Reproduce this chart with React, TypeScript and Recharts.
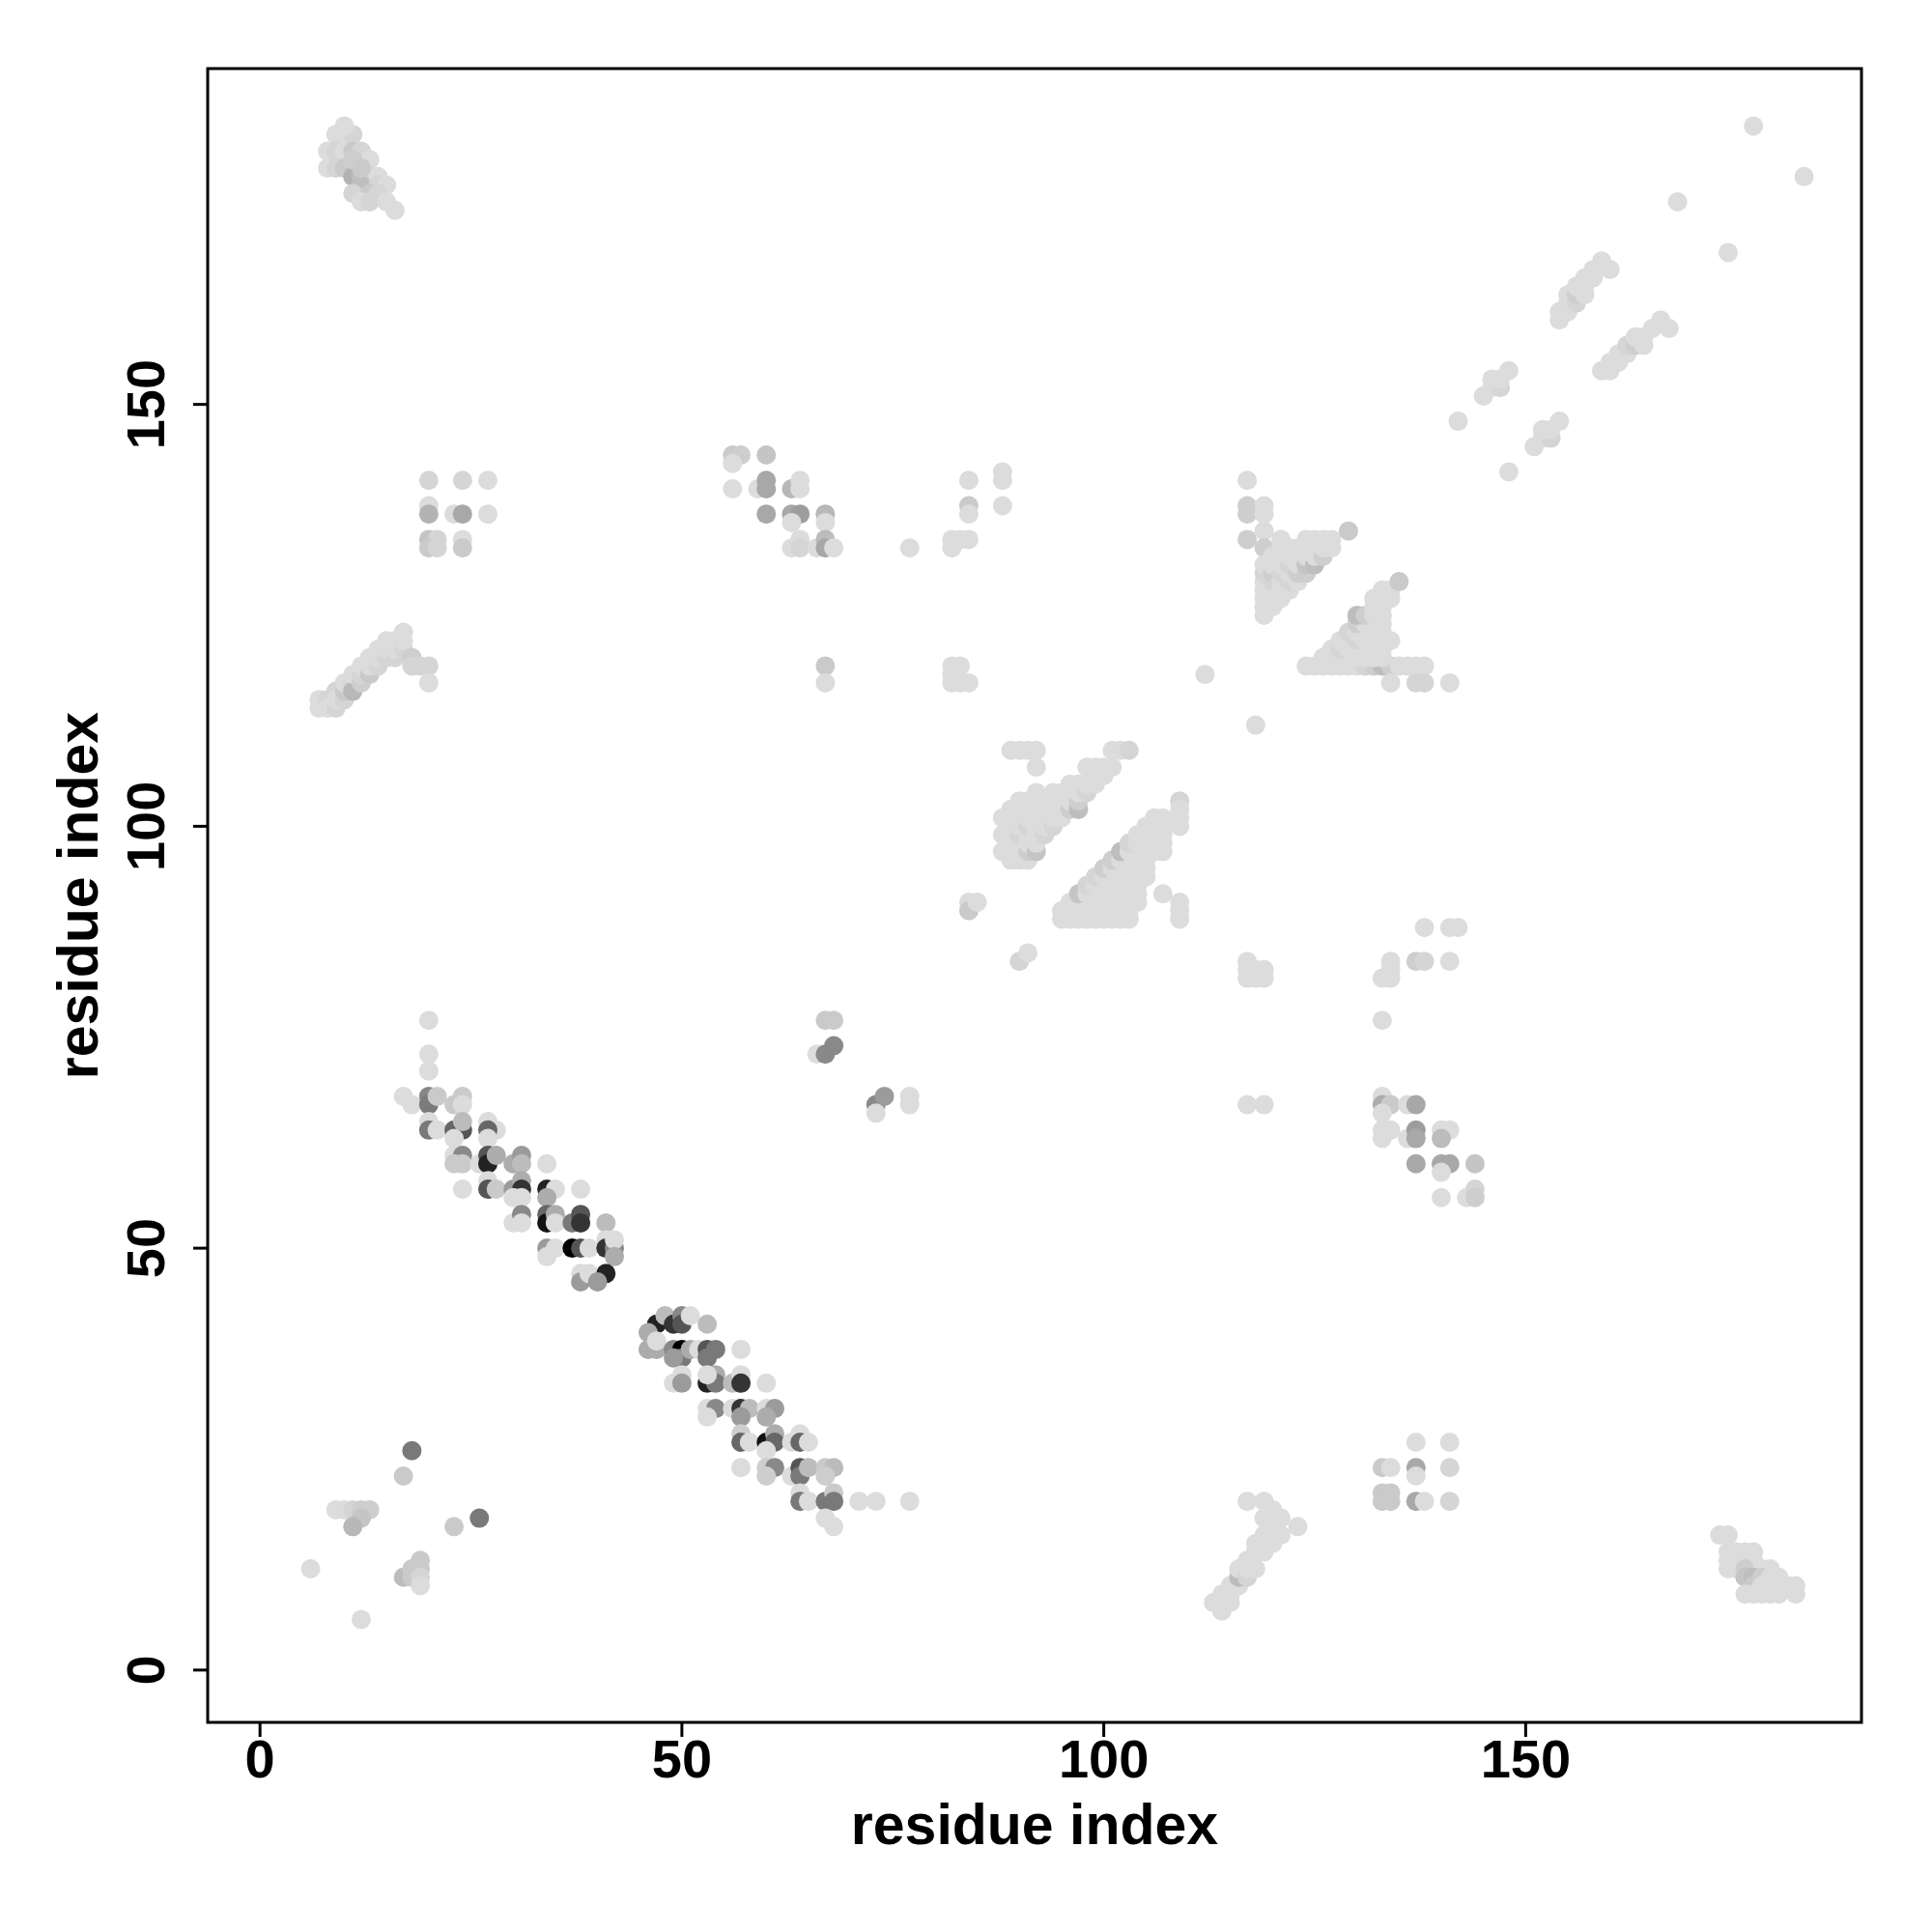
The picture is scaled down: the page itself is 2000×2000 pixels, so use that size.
import React from "react";
import { ScatterChart, Scatter, XAxis, YAxis, ReferenceArea } from "recharts";

// contact map: [i, j, weight]  (weight 0 = faint, 1 = black); missing weight -> faint
type Pt = [number, number, number?];

const xTicks = [0, 50, 100, 150];
const yTicks = [0, 50, 100, 150];
const xLabel = "residue index";
const yLabel = "residue index";

const topLeft: Pt[] = [
  [9, 182], [10, 182], [11, 182, 0.05], [10, 183], [8, 180], [9, 180, 0.05], [10, 180], [11, 180, 0.1], [12, 180, 0.05],
  [13, 179], [8, 178], [9, 178, 0.05], [10, 178, 0.1], [11, 177, 0.2], [12, 177, 0.15], [13, 177, 0.05], [14, 177],
  [12, 176, 0.15], [14, 176, 0.05], [15, 176], [11, 175, 0.05], [13, 175, 0.1], [14, 175, 0.05], [12, 174],
  [13, 174, 0.05], [15, 174], [16, 173], [11, 179, 0.08], [12, 178, 0.1],
];

const block135: Pt[] = [
  [20, 141, 0.05], [24, 141, 0.05], [27, 141], [20, 138], [20, 137, 0.2], [23, 137], [24, 137, 0.25], [27, 137],
  [20, 134, 0.12], [21, 134, 0.05], [20, 133, 0.1], [21, 133, 0.05], [24, 134], [24, 133, 0.1],
];

const band115: Pt[] = [
  [7, 115], [7, 114], [8, 115, 0.05], [8, 114], [9, 114, 0.05], [9, 116, 0.05], [9, 115], [10, 115, 0.05],
  [10, 116, 0.1], [10, 117], [11, 117, 0.05], [11, 116, 0.18], [11, 118], [12, 117, 0.08], [12, 118, 0.05],
  [12, 119], [13, 118, 0.1], [13, 119], [13, 120], [14, 119, 0.05], [14, 120], [14, 121], [15, 120, 0.05],
  [15, 121], [15, 122], [16, 120, 0.05], [16, 122], [16, 121], [17, 121, 0.05], [17, 123], [17, 122],
  [18, 120, 0.08], [18, 119, 0.05], [19, 119, 0.05], [20, 119, 0.05], [20, 117],
];

const betaA: Pt[] = [
  [20, 77], [20, 73], [20, 71], [17, 68], [18, 67], [20, 68, 0.4], [20, 67, 0.45], [21, 68, 0.1], [24, 68, 0.1],
  [23, 67, 0.1], [24, 67], [20, 65], [20, 64, 0.46], [21, 64], [23, 64, 0.54], [24, 64, 0.62], [24, 65, 0.16],
  [23, 63], [27, 65], [28, 64], [27, 64, 0.54], [27, 63], [23, 61], [24, 61, 0.39], [23, 60, 0.1], [24, 60, 0.1],
  [26, 60], [27, 61, 0.62], [27, 60, 0.85], [28, 61, 0.23], [30, 60, 0.23], [31, 61, 0.31], [31, 60, 0.16],
  [34, 60], [24, 57], [27, 58], [27, 57, 0.62], [28, 57, 0.1], [30, 57, 0.31], [31, 58, 0.23], [31, 57, 0.77],
  [30, 56], [31, 56], [34, 57, 0.85], [35, 57], [34, 56, 0.23], [38, 57], [30, 53], [31, 54, 0.39], [31, 53],
  [34, 54, 0.54], [34, 53, 0.92], [35, 54, 0.23], [35, 53], [37, 53, 0.46], [38, 54, 0.62], [38, 53, 0.77],
  [41, 53, 0.16], [34, 50, 0.31], [35, 50], [34, 49], [37, 50, 1], [38, 50, 0.62], [39, 50], [41, 51],
  [41, 50, 0.77], [42, 50, 0.39], [42, 51], [42, 49, 0.23], [38, 47], [38, 46, 0.31], [39, 47], [41, 47, 0.85],
  [40, 46, 0.31],
];

const betaB: Pt[] = [
  [47, 41, 0.85], [46, 40, 0.23], [46, 38, 0.23], [47, 38, 0.23], [48, 42, 0.16], [49, 41, 0.77], [50, 42, 0.39],
  [50, 41, 0.62], [51, 42], [53, 41, 0.16], [47, 39], [49, 38, 0.39], [50, 38, 1], [50, 37, 0.46], [49, 37, 0.31],
  [51, 38, 0.23], [52, 38], [53, 38, 0.62], [54, 38, 0.46], [53, 37, 0.46], [57, 38], [49, 34], [50, 35],
  [50, 34, 0.31], [53, 34, 0.85], [54, 35, 0.23], [54, 34, 0.46], [53, 35], [56, 34, 0.16], [57, 35],
  [57, 34, 0.77], [60, 34], [53, 31], [54, 31, 0.39], [53, 30], [56, 31], [57, 31, 0.77], [58, 31, 0.16],
  [57, 30, 0.31], [60, 31], [61, 31, 0.31], [60, 30, 0.23], [57, 28, 0.08], [57, 27, 0.54], [58, 27],
  [60, 27, 0.92], [61, 28, 0.23], [61, 27, 0.54], [60, 26], [63, 27], [64, 28], [64, 27, 0.54], [65, 27],
  [57, 24], [60, 24, 0.08], [61, 24, 0.39], [60, 23, 0.08], [63, 23], [64, 24, 0.62], [64, 23, 0.46],
  [65, 24, 0.16], [67, 24, 0.1], [68, 24, 0.16], [67, 23, 0.08], [64, 21], [64, 20, 0.46], [65, 20],
  [67, 20, 0.46], [68, 21, 0.1], [68, 20, 0.46], [71, 20], [73, 20], [77, 20], [67, 18], [68, 17],
];

const bottomLeft: Pt[] = [
  [18, 26, 0.46], [17, 23, 0.1], [9, 19], [10, 19], [11, 19, 0.05], [12, 19, 0.08], [13, 19, 0.08], [12, 18, 0.12],
  [11, 17, 0.18], [26, 18, 0.46], [23, 17, 0.1], [6, 12], [19, 13, 0.1], [17, 11, 0.16], [18, 12, 0.1],
  [18, 11, 0.1], [19, 12, 0.1], [19, 11, 0.05], [19, 10], [12, 6],
];

const midBlock: Pt[] = [
  [56, 144, 0.1], [57, 144, 0.08], [56, 143], [60, 144, 0.12], [56, 140], [59, 140], [60, 141, 0.25],
  [60, 140, 0.25], [63, 140, 0.18], [64, 141], [64, 140], [60, 137, 0.25], [63, 137, 0.25], [64, 137, 0.3],
  [63, 136], [67, 137, 0.18], [67, 136], [63, 133], [64, 134], [64, 133, 0.05], [66, 133], [67, 134, 0.16],
  [67, 133, 0.25], [68, 133], [67, 119, 0.1], [67, 117], [77, 133], [82, 134], [83, 134], [84, 134], [82, 133],
  [84, 141], [84, 138, 0.1], [84, 137], [88, 142], [88, 141], [88, 138], [82, 119], [83, 119], [82, 118],
  [82, 117], [83, 117], [84, 117],
  [67, 77, 0.1], [68, 77, 0.1], [66, 73], [67, 73, 0.39], [68, 74, 0.39], [73, 67, 0.39], [74, 68, 0.31],
  [77, 68], [77, 67], [73, 66],
];

const helix100: Pt[] = [
  [89, 109], [90, 109], [91, 109], [92, 109], [92, 107], [101, 109], [102, 109], [103, 109, 0.05], [98, 107],
  [99, 107], [100, 107], [101, 107],
  [88, 97], [88, 99], [88, 101],
  [89, 96], [89, 97], [89, 98], [89, 99], [89, 100], [89, 101], [89, 102],
  [90, 96], [90, 97], [90, 98], [90, 99, 0.05], [90, 100], [90, 101], [90, 102], [90, 103],
  [91, 96], [91, 97, 0.08], [91, 98], [91, 99], [91, 100, 0.05], [91, 101], [91, 102], [91, 103],
  [92, 97, 0.12], [92, 98], [92, 99], [92, 100], [92, 101], [92, 102], [92, 103], [92, 104],
  [93, 99, 0.05], [93, 100], [93, 101], [93, 102], [93, 103],
  [94, 100, 0.05], [94, 101], [94, 102], [94, 103], [94, 104],
  [95, 101], [95, 102], [95, 103], [95, 104],
  [96, 102, 0.08], [96, 103], [96, 104], [96, 105],
  [97, 102, 0.15], [97, 103, 0.08], [97, 104], [97, 105],
  [98, 104, 0.05], [98, 105], [99, 105], [99, 106], [100, 106],
  [95, 89], [96, 89], [97, 89], [98, 89], [99, 89], [100, 89], [101, 89], [102, 89], [103, 89],
  [95, 90], [96, 90], [97, 90], [98, 90], [99, 90], [100, 90], [101, 90], [102, 90], [103, 90],
  [96, 91], [97, 91], [98, 91], [99, 91], [100, 91], [101, 91], [102, 91], [103, 91], [104, 91],
  [97, 92, 0.12], [98, 92], [99, 92], [100, 92], [101, 92], [102, 92], [103, 92], [104, 92],
  [98, 93, 0.05], [99, 93], [100, 93], [101, 93], [102, 93], [103, 93], [104, 93],
  [99, 94, 0.05], [100, 94], [101, 94], [102, 94], [103, 94], [104, 94], [105, 94],
  [100, 95, 0.08], [101, 95], [102, 95], [103, 95], [104, 95], [105, 95],
  [101, 96, 0.08], [102, 96], [103, 96], [104, 96], [105, 96],
  [102, 97, 0.15], [103, 97], [104, 97], [105, 97], [106, 97],
  [103, 98, 0.05], [104, 98], [105, 98], [106, 98],
  [104, 99], [105, 99], [106, 99], [105, 100], [106, 100], [106, 101],
  [107, 101], [107, 100], [107, 99], [107, 98], [107, 97], [109, 103, 0.05], [109, 102], [109, 101], [109, 100],
  [107, 92], [109, 91], [109, 90], [109, 89],
  [84, 91], [84, 90, 0.1], [85, 91], [90, 84, 0.05], [91, 85],
];

const helix125: Pt[] = [
  [117, 141], [117, 138, 0.08], [117, 137, 0.08], [119, 138], [119, 137], [117, 134, 0.08], [119, 135],
  [119, 133, 0.08],
  [119, 125], [119, 126], [119, 127], [119, 128], [119, 129], [119, 130, 0.05], [119, 131],
  [120, 126], [120, 127], [120, 128], [120, 129, 0.05], [120, 130, 0.08], [120, 131], [120, 132],
  [121, 127], [121, 128], [121, 129], [121, 130, 0.05], [121, 131], [121, 132], [121, 133], [121, 134],
  [122, 128], [122, 129, 0.05], [122, 130], [122, 131, 0.05], [122, 132], [122, 133],
  [123, 129], [123, 130, 0.08], [123, 131], [123, 132], [123, 133],
  [124, 130, 0.08], [124, 131, 0.12], [124, 132], [124, 133], [124, 134],
  [125, 131, 0.15], [125, 132], [125, 133], [125, 134],
  [126, 132, 0.08], [126, 133], [126, 134], [127, 133], [127, 134],
  [129, 135, 0.1],
  [124, 119], [125, 119], [126, 119], [127, 119], [128, 119], [129, 119], [130, 119], [131, 119, 0.05],
  [132, 119, 0.08], [133, 119, 0.15], [134, 119, 0.08], [135, 119], [136, 119], [137, 119], [138, 119],
  [126, 120], [127, 120], [128, 120], [129, 120], [130, 120], [131, 120], [132, 120], [133, 120],
  [127, 121], [128, 121, 0.05], [129, 121], [130, 121], [131, 121], [132, 121], [133, 121],
  [128, 122], [129, 122], [130, 122, 0.05], [131, 122], [132, 122], [133, 122], [134, 122],
  [129, 123, 0.05], [130, 123], [131, 123], [132, 123], [133, 123],
  [130, 124, 0.08], [131, 124], [132, 124], [133, 124],
  [130, 125, 0.15], [131, 125, 0.08], [132, 125], [133, 125],
  [132, 126], [133, 126], [132, 127], [133, 127], [134, 127], [133, 128], [134, 128],
  [135, 129, 0.1], [134, 117], [137, 117, 0.05], [138, 117, 0.05], [141, 117],
  [112, 118], [118, 112],
];

const diag150: Pt[] = [
  [177, 183], [183, 177], [168, 174], [174, 168],
  [154, 160], [154, 161], [155, 161], [155, 162], [155, 163], [156, 162, 0.05], [156, 163, 0.08], [156, 164],
  [157, 163], [157, 164], [157, 165], [158, 165], [158, 166], [159, 167], [160, 166],
  [159, 154], [160, 154], [160, 155], [161, 155], [161, 156], [162, 156], [162, 157, 0.05], [163, 157, 0.08],
  [163, 158], [164, 157], [164, 158], [165, 159], [166, 160], [167, 159],
  [145, 151], [146, 152], [147, 152, 0.05], [146, 153], [147, 153], [148, 154],
  [151, 145], [152, 146], [153, 146, 0.05], [152, 147], [153, 147], [154, 148],
  [142, 148], [148, 142],
];

const lowRight: Pt[] = [
  [138, 88], [141, 88], [142, 88], [117, 84], [117, 83], [118, 83], [117, 82], [118, 82], [119, 82], [119, 83],
  [134, 84], [133, 82], [134, 82], [134, 83], [137, 84, 0.08], [138, 84, 0.05], [141, 84], [133, 77],
  [117, 67], [119, 67], [133, 68], [133, 67, 0.23], [134, 67, 0.1], [136, 67], [137, 67, 0.25], [133, 66],
  [133, 64], [133, 63], [134, 64], [136, 63], [137, 64, 0.3], [137, 63, 0.25], [140, 64], [141, 64],
  [140, 63, 0.16], [137, 60, 0.25], [140, 60, 0.25], [141, 60, 0.25], [140, 59], [144, 60, 0.12], [140, 56],
  [143, 56], [144, 57, 0.05], [144, 56, 0.08],
];

const bottomRight: Pt[] = [
  [137, 27], [141, 27], [133, 24, 0.1], [134, 24], [137, 24, 0.25], [137, 23], [141, 24, 0.05],
  [133, 21, 0.1], [134, 21, 0.1], [133, 20, 0.1], [134, 20, 0.1], [137, 20, 0.25], [138, 20], [141, 20, 0.05],
  [117, 20], [119, 20], [119, 18], [123, 17], [113, 8], [114, 7], [114, 8], [114, 9], [115, 8], [115, 9],
  [115, 10], [116, 10], [116, 11, 0.16], [116, 12], [117, 11, 0.05], [117, 12], [117, 13], [118, 12],
  [118, 14], [118, 15], [119, 14], [119, 15], [119, 16], [120, 15], [120, 16], [120, 17], [121, 16],
  [121, 18], [120, 19],
];

const cornerBR: Pt[] = [
  [173, 16], [174, 16], [174, 14], [175, 14], [176, 14], [177, 14], [174, 13], [175, 13], [176, 13],
  [177, 13], [174, 12], [175, 12], [176, 12, 0.08], [178, 12], [179, 12], [176, 11, 0.12], [177, 11, 0.15],
  [178, 11, 0.08], [179, 11], [180, 11], [177, 10, 0.1], [178, 10], [179, 10], [180, 10], [181, 10],
  [182, 10], [176, 9], [177, 9], [178, 9], [179, 9], [180, 9], [182, 9],
];

const groups = [
  topLeft, block135, band115, betaA, betaB, bottomLeft, midBlock,
  helix100, helix125, diag150, lowRight, bottomRight, cornerBR,
];

const XDOM: [number, number] = [-6.2, 189.8];
const YDOM: [number, number] = [-6.2, 189.8];
const FONT = "'Liberation Sans', Arial, Helvetica, sans-serif";

function shade(w: number) {
  const g = Math.round(224 * (1 - w));
  return `rgb(${g},${g},${g})`;
}

function Dot(props: any) {
  const { cx, cy, payload } = props;
  if (cx == null || cy == null) return null;
  return <circle cx={cx} cy={cy} r={10} fill={shade(payload.w)} />;
}

function XTick(props: any) {
  const { x, payload } = props;
  return (
    <text x={x} y={1840} textAnchor="middle" fontFamily={FONT} fontWeight="bold" fontSize={56} fill="#000">
      {payload.value}
    </text>
  );
}

function YTick(props: any) {
  const { y, payload } = props;
  return (
    <text
      x={170}
      y={y}
      transform={`rotate(-90, 170, ${y})`}
      textAnchor="middle"
      fontFamily={FONT}
      fontWeight="bold"
      fontSize={56}
      fill="#000"
    >
      {payload.value}
    </text>
  );
}

export default function App() {
  return (
    <div style={{ position: "absolute", left: 0, top: 0, width: 2000, height: 2000, background: "#fff" }}>
      <ScatterChart width={2000} height={2000} margin={{ top: 71, right: 73, bottom: 0, left: 0 }}>
        <XAxis
          type="number"
          dataKey="x"
          domain={XDOM}
          allowDataOverflow
          ticks={xTicks}
          height={217}
          axisLine={false}
          tickSize={15}
          tickLine={{ stroke: "#000", strokeWidth: 3 }}
          tick={<XTick />}
        />
        <YAxis
          type="number"
          dataKey="y"
          domain={YDOM}
          allowDataOverflow
          ticks={yTicks}
          width={215}
          axisLine={false}
          tickSize={15}
          tickLine={{ stroke: "#000", strokeWidth: 3 }}
          tick={<YTick />}
        />
        {groups.map((g, i) => (
          <Scatter
            key={i}
            data={g.map(([x, y, w]) => ({ x, y, w: w ?? 0.02 }))}
            shape={<Dot />}
            isAnimationActive={false}
          />
        ))}
        <ReferenceArea x1={XDOM[0]} x2={XDOM[1]} y1={YDOM[0]} y2={YDOM[1]} fill="none" stroke="#000" strokeWidth={3} />
      </ScatterChart>
      <svg width={2000} height={2000} style={{ position: "absolute", left: 0, top: 0, pointerEvents: "none" }}>
        <text x={1071} y={1909} textAnchor="middle" fontFamily={FONT} fontWeight="bold" fontSize={59}>
          {xLabel}
        </text>
        <text
          x={101}
          y={927}
          transform="rotate(-90, 101, 927)"
          textAnchor="middle"
          fontFamily={FONT}
          fontWeight="bold"
          fontSize={59}
        >
          {yLabel}
        </text>
      </svg>
    </div>
  );
}
